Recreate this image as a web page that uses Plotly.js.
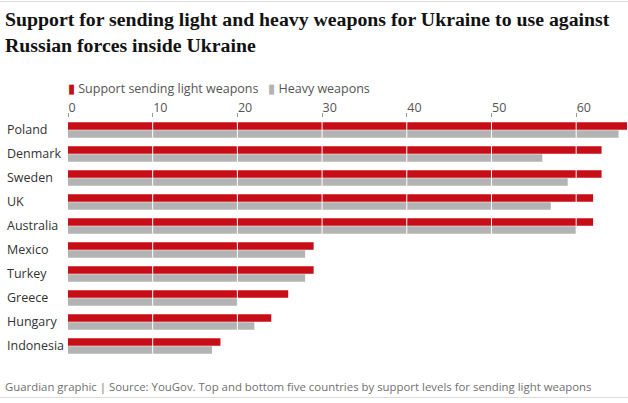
<!DOCTYPE html>
<html>
<head>
<meta charset="utf-8">
<script src="https://cdn.plot.ly/plotly-3.0.1.min.js"></script>
<style>html,body{margin:0;padding:0;background:#fff;}#chart{width:628px;height:403px;}</style>
</head>
<body>
<div id="chart"></div>
<script>
const countries = ["Poland","Denmark","Sweden","UK","Australia","Mexico","Turkey","Greece","Hungary","Indonesia"];
const lightWeapons = [66,63,63,62,62,29,29,26,24,18];
const heavyWeapons = [65,56,59,57,60,28,28,20,22,17];
const tickValues = [0,10,20,30,40,50,60];
const tickLabels = ["0","10","20","30","40","50","60"];

const RED = "#c70d16";
const GREY = "#b3b3b3";
const SANS = "Open Sans, sans-serif";

const W = 628, H = 403;
const mL = 68, mR = 1, mT = 118, mB = 45;
const pw = W - mL - mR, ph = H - mT - mB;
const px = v => (v - mL) / pw;      // container px -> paper x
const py = v => (H - mB - v) / ph;  // container px -> paper y

const traces = [
  {type:"bar", orientation:"h", name:"Support sending light weapons", y:countries, x:lightWeapons,
   marker:{color:RED}, showlegend:false, hoverinfo:"x+y"},
  {type:"bar", orientation:"h", name:"Heavy weapons", y:countries, x:heavyWeapons,
   marker:{color:GREY}, showlegend:false, hoverinfo:"x+y"}
];

// white gridlines drawn over the bars, one per tick value
const gridShapes = tickValues.filter(v => v > 0).map(v => ({
  type:"line", xref:"x", yref:"paper", x0:v, x1:v, y0:0, y1:1, layer:"above",
  line:{color:"#ffffff", width:1}
}));

const layout = {
  width:W, height:H,
  margin:{l:mL, r:mR, t:mT, b:mB, pad:0},
  paper_bgcolor:"#fff", plot_bgcolor:"#fff",
  barmode:"group", bargap:0.333, bargroupgap:0.04,
  showlegend:false,
  title:{
    text:"Support for sending light and heavy weapons for Ukraine to use against<br>Russian forces inside Ukraine",
    font:{family:"Liberation Serif, serif", size:19.8, color:"#121212", weight:"bold"},
    xref:"container", x:5/W, xanchor:"left",
    yref:"container", y:1-26/H, yanchor:"top"
  },
  xaxis:{
    side:"top", range:[0,66], fixedrange:true,
    tickmode:"array", tickvals:tickValues, ticktext:tickLabels,
    ticks:"outside", ticklen:4, tickwidth:1, tickcolor:"#999",
    ticklabelposition:"outside right",
    tickfont:{family:SANS, size:12.5, color:"#555"},
    showgrid:false, zeroline:false, showline:false
  },
  yaxis:{
    type:"category", categoryorder:"array", categoryarray:countries,
    autorange:"reversed", fixedrange:true,
    ticks:"", showgrid:false, zeroline:false, showline:false,
    ticklabelposition:"inside", ticklabelstandoff:-(mL-4),
    tickfont:{family:SANS, size:12.5, color:"#333"}
  },
  annotations:[
    {xref:"paper", yref:"paper", x:px(66), y:py(88), xanchor:"left", yanchor:"middle", showarrow:false,
     align:"left",
     text:'<span style="color:'+RED+'">▮</span> Support sending light weapons &nbsp;&nbsp;<span style="color:'+GREY+'">▮</span> Heavy weapons',
     font:{family:SANS, size:12.5, color:"#555"}},
    {xref:"paper", yref:"paper", x:px(3), y:py(386), xanchor:"left", yanchor:"middle", showarrow:false,
     align:"left",
     text:"Guardian graphic | Source: YouGov. Top and bottom five countries by support levels for sending light weapons",
     font:{family:SANS, size:11.4, color:"#707070"}}
  ],
  shapes:[
    {type:"line", xref:"paper", yref:"paper", x0:px(0), x1:px(W), y0:py(1.5), y1:py(1.5),
     line:{color:"#dcdcdc", width:1}},
    {type:"line", xref:"paper", yref:"paper", x0:px(0), x1:px(W), y0:py(397.5), y1:py(397.5),
     line:{color:"#dcdcdc", width:1}}
  ].concat(gridShapes)
};

Plotly.newPlot("chart", traces, layout, {displayModeBar:false, staticPlot:true});
</script>
</body>
</html>
